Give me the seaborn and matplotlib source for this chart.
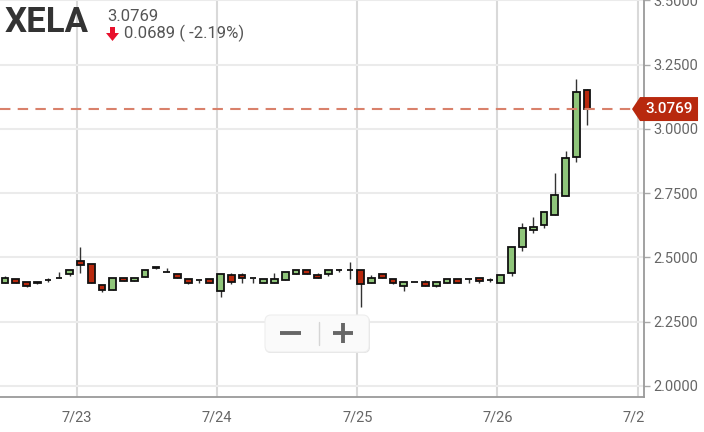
import matplotlib
matplotlib.use("Agg")
import matplotlib.pyplot as plt
import seaborn as sns
import pandas as pd
from matplotlib.patches import FancyBboxPatch, Polygon
from matplotlib.lines import Line2D
from matplotlib.transforms import Bbox, TransformedBbox, IdentityTransform, blended_transform_factory

# candles (hourly-ish)
opens = [2.402, 2.415, 2.403, 2.403, 2.412, 2.419, 2.437, 2.485, 2.473, 2.391,
         2.372, 2.421, 2.409, 2.425, 2.460, 2.442, 2.434, 2.415, 2.412, 2.415,
         2.371, 2.433, 2.433, 2.419, 2.402, 2.402, 2.412, 2.437, 2.450, 2.432,
         2.437, 2.450, 2.450, 2.450, 2.402, 2.434, 2.415, 2.390, 2.403, 2.403,
         2.390, 2.402, 2.415, 2.415, 2.421, 2.412, 2.402, 2.438, 2.542, 2.605,
         2.625, 2.665, 2.740, 2.892, 3.150]
highs = [2.429, 2.415, 2.403, 2.403, 2.419, 2.442, 2.450, 2.542, 2.473, 2.391,
         2.420, 2.421, 2.418, 2.450, 2.460, 2.460, 2.434, 2.415, 2.412, 2.415,
         2.434, 2.441, 2.441, 2.419, 2.415, 2.438, 2.444, 2.450, 2.450, 2.441,
         2.450, 2.455, 2.482, 2.452, 2.432, 2.434, 2.415, 2.403, 2.403, 2.412,
         2.403, 2.415, 2.415, 2.415, 2.421, 2.419, 2.432, 2.542, 2.635, 2.658,
         2.677, 2.827, 2.915, 3.194, 3.153]
lows = [2.402, 2.400, 2.386, 2.397, 2.403, 2.419, 2.428, 2.438, 2.402, 2.367,
        2.372, 2.407, 2.409, 2.425, 2.455, 2.442, 2.419, 2.398, 2.402, 2.402,
        2.347, 2.398, 2.402, 2.402, 2.402, 2.402, 2.412, 2.437, 2.437, 2.419,
        2.428, 2.445, 2.415, 2.306, 2.402, 2.419, 2.398, 2.369, 2.403, 2.390,
        2.386, 2.402, 2.402, 2.402, 2.402, 2.403, 2.402, 2.428, 2.526, 2.596,
        2.613, 2.665, 2.740, 2.871, 3.015]
closes = [2.419, 2.400, 2.390, 2.402, 2.412, 2.419, 2.450, 2.472, 2.402, 2.372,
          2.420, 2.407, 2.418, 2.450, 2.460, 2.442, 2.419, 2.402, 2.412, 2.402,
          2.434, 2.405, 2.419, 2.419, 2.415, 2.415, 2.444, 2.450, 2.437, 2.419,
          2.450, 2.450, 2.450, 2.397, 2.421, 2.419, 2.402, 2.403, 2.403, 2.390,
          2.403, 2.415, 2.402, 2.415, 2.408, 2.412, 2.432, 2.542, 2.613, 2.619,
          2.677, 2.741, 2.886, 3.143, 3.0769]

day_labels = ['7/23', '7/24', '7/25', '7/26', '7/27']
day_pos = [6.68, 19.68, 32.68, 45.68, 58.68]
y_ticks = [2.0, 2.25, 2.5, 2.75, 3.0, 3.25, 3.5]

ticker = 'XELA'
last_price = 3.0769
change = 0.0689
change_pct = -2.19

df = pd.DataFrame({'open': opens, 'high': highs, 'low': lows, 'close': closes})
df['i'] = range(len(df))
df['up'] = df['close'] >= df['open']
df['bottom'] = df[['open', 'close']].min(axis=1)
df['height'] = (df['close'] - df['open']).abs().clip(lower=0.0015)

sns.set_style('whitegrid', {'grid.color': '#ebebeb', 'axes.edgecolor': '#9a9a9a'})
plt.rcParams['font.family'] = ['Roboto', 'DejaVu Sans']

fig = plt.figure(figsize=(7.04, 4.32), dpi=100)
ax = fig.add_axes([0, 1 - 397 / 432, 644 / 704, 397 / 432])

# wicks + bodies
ax.vlines(df['i'], df['low'], df['high'], color='#333333', lw=1, zorder=2)
colors = ['#8fc57a' if u else '#b8290e' for u in df['up']]
ax.bar(df['i'], df['height'], bottom=df['bottom'], width=0.62, color=colors,
       edgecolor='#111111', linewidth=1.3, zorder=3)

ax.set_xlim(-0.46, 59.28)
ax.set_ylim(1.957, 3.501)
ax.set_yticks(y_ticks)
ax.set_yticklabels([f'{v:.4f}' for v in y_ticks])
ax.yaxis.tick_right()
ax.set_xticks(day_pos)
ax.set_xticklabels(day_labels)

ax.yaxis.grid(True, color='#ebebeb', lw=1.5)
ax.xaxis.grid(True, color='#d9d9d9', lw=1.5)
ax.tick_params(axis='x', length=7, width=1, color='#aaaaaa', labelsize=10.5, labelcolor='#666666', pad=3)
ax.tick_params(axis='y', length=4, width=1, color='#aaaaaa', labelsize=10.5, labelcolor='#666666', pad=3)
for s in ['top', 'left']:
    ax.spines[s].set_visible(False)
for s in ['bottom', 'right']:
    ax.spines[s].set_color('#9a9a9a')
    ax.spines[s].set_linewidth(1.3)

# last price line + tag
ax.axhline(last_price, xmax=0.982, color='#d9816b', ls=(0, (5, 3.5)), lw=1.5, zorder=4)
tr = blended_transform_factory(ax.transAxes, ax.transData)
h = 12 * (3.501 - 1.957) / 397
tag = Polygon([(0.9814, last_price), (0.9938, last_price + h), (1.0839, last_price + h),
               (1.0839, last_price - h), (0.9938, last_price - h)],
              closed=True, transform=tr, facecolor='#b8290e', edgecolor='none',
              clip_on=False, zorder=6)
ax.add_patch(tag)
ax.text(1.039, last_price, f'{last_price:.4f}', transform=tr, color='white',
        fontsize=11, fontweight='medium', ha='center', va='center', clip_on=False, zorder=7)

# clip the last date label at the axis edge, like the original
clip = TransformedBbox(Bbox([[0, 0], [645 / 704, 1]]), fig.transFigure)
for lbl in ax.get_xticklabels():
    lbl.set_clip_box(clip)
    lbl.set_clip_on(True)

# header
px = IdentityTransform()
fig.text(5 / 704, 1 - 32 / 432, ticker, fontsize=25, fontweight='bold', color='#333333', va='baseline')
fig.text(107 / 704, 1 - 21 / 432, f'{last_price:.4f}', fontsize=12, color='#555555', va='baseline')
# red down arrow
fig.add_artist(Polygon([(110, 432 - 27), (115, 432 - 27), (115, 432 - 33), (119, 432 - 33),
                        (112.5, 432 - 41), (106, 432 - 33), (110, 432 - 33)],
                       closed=True, transform=px, facecolor='#e8112d', edgecolor='none', zorder=5))
fig.text(124 / 704, 1 - 38 / 432, f'{change:.4f} ( {change_pct:.2f}%)', fontsize=12,
         color='#555555', va='baseline')

# zoom control box
fig.add_artist(FancyBboxPatch((265, 432 - 353), 105, 37, boxstyle='round,pad=0,rounding_size=6',
                              transform=px, facecolor='#e2e2e2', edgecolor='none', zorder=8))
fig.add_artist(FancyBboxPatch((265, 432 - 352), 104, 37, boxstyle='round,pad=0,rounding_size=6',
                              transform=px, facecolor='#fafafa', edgecolor='#eeeeee', lw=0.8, zorder=9))
fig.add_artist(Line2D([319, 319], [432 - 345, 432 - 322], transform=px, color='#d5d5d5', lw=1, zorder=10))
fig.add_artist(Line2D([280, 301], [432 - 333, 432 - 333], transform=px, color='#666666', lw=2.8,
                      solid_capstyle='butt', zorder=10))
fig.add_artist(Line2D([333, 353], [432 - 333, 432 - 333], transform=px, color='#666666', lw=2.8,
                      solid_capstyle='butt', zorder=10))
fig.add_artist(Line2D([343, 343], [432 - 343, 432 - 323], transform=px, color='#666666', lw=2.8,
                      solid_capstyle='butt', zorder=10))

fig.savefig('out.png', dpi=100)
